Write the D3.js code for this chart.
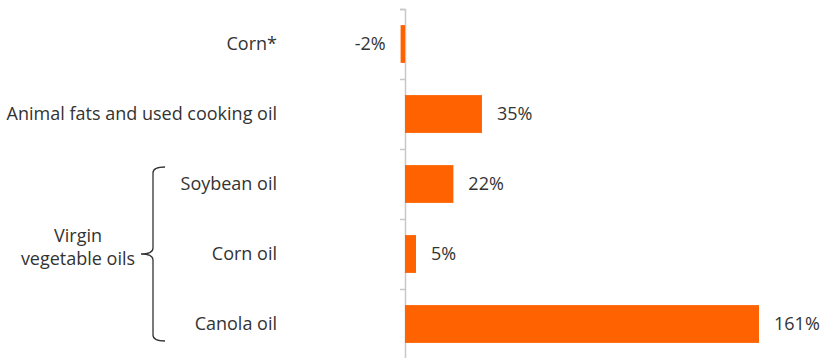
<!DOCTYPE html>
<html>
<head>
<meta charset="utf-8">
<script src="https://cdn.jsdelivr.net/npm/d3@7"></script>
<style>
  body { margin: 0; background: #fff; }
  text { font-family: "Open Sans", sans-serif; fill: #333; }
</style>
</head>
<body>
<svg id="chart" width="820" height="358"></svg>
<script>
// Data
const categories = ['Corn*', 'Animal fats and used cooking oil', 'Soybean oil', 'Corn oil', 'Canola oil'];
const values = [-2, 35, 22, 5, 161];
const valueLabels = ['-2%', '35%', '22%', '5%', '161%'];
const groupLabel = ['Virgin', 'vegetable oils'];
const groupMembers = ['Soybean oil', 'Corn oil', 'Canola oil'];

const orange = '#ff6200';
const fontSize = '18px';

const svg = d3.select('#chart');

// Scales
const y = d3.scaleBand()
  .domain(categories)
  .range([9, 359])
  .padding(0);

const x = d3.scaleLinear()
  .domain([0, 161])
  .range([405, 759]);

const barH = y.bandwidth() * 0.54;

// Axis (ticks at band edges)
const yEdge = d3.scaleLinear().domain([0, categories.length]).range(y.range());
const axis = svg.append('g')
  .attr('transform', `translate(${x(0)},0)`)
  .call(d3.axisLeft(yEdge).tickValues(d3.range(categories.length + 1)).tickSize(5).tickFormat(''));
axis.selectAll('path, line').attr('stroke', '#c8c8c8').attr('stroke-width', 1.5);

// Bars
svg.selectAll('.bar')
  .data(categories)
  .enter()
  .append('rect')
  .attr('class', 'bar')
  .attr('x', (d, i) => Math.min(x(0), x(values[i])))
  .attr('width', (d, i) => Math.abs(x(values[i]) - x(0)))
  .attr('y', d => y(d) + (y.bandwidth() - barH) / 2)
  .attr('height', barH)
  .attr('fill', orange);

// Value labels
svg.selectAll('.val')
  .data(categories)
  .enter()
  .append('text')
  .attr('class', 'val')
  .attr('x', (d, i) => values[i] < 0 ? x(values[i]) - 15 : x(values[i]) + 15)
  .attr('y', d => y(d) + y.bandwidth() / 2)
  .attr('dy', '0.35em')
  .attr('text-anchor', (d, i) => values[i] < 0 ? 'end' : 'start')
  .style('font-size', fontSize)
  .text((d, i) => valueLabels[i]);

// Category labels
svg.selectAll('.cat')
  .data(categories)
  .enter()
  .append('text')
  .attr('class', 'cat')
  .attr('x', 277)
  .attr('y', d => y(d) + y.bandwidth() / 2)
  .attr('dy', '0.35em')
  .attr('text-anchor', 'end')
  .style('font-size', fontSize)
  .text(d => d);

// Brace for the group
const braceTop = y(groupMembers[0]) + 18;
const braceBot = y(groupMembers[groupMembers.length - 1]) + y.bandwidth() - 18;
const braceMid = (braceTop + braceBot) / 2;
const bx = 153, r = 6;
svg.append('path')
  .attr('d', `M${bx + 12},${braceTop} Q${bx},${braceTop} ${bx},${braceTop + r}
    L${bx},${braceMid - r} Q${bx},${braceMid} ${bx - 12},${braceMid}
    Q${bx},${braceMid} ${bx},${braceMid + r}
    L${bx},${braceBot - r} Q${bx},${braceBot} ${bx + 12},${braceBot}`)
  .attr('fill', 'none')
  .attr('stroke', '#333')
  .attr('stroke-width', 1.3);

svg.append('text')
  .attr('y', braceMid - 12)
  .attr('dy', '0.35em')
  .attr('text-anchor', 'middle')
  .style('font-size', fontSize)
  .selectAll('tspan')
  .data(groupLabel)
  .enter()
  .append('tspan')
  .attr('x', 78)
  .attr('dy', (d, i) => i === 0 ? 0 : 23)
  .text(d => d);
</script>
</body>
</html>
